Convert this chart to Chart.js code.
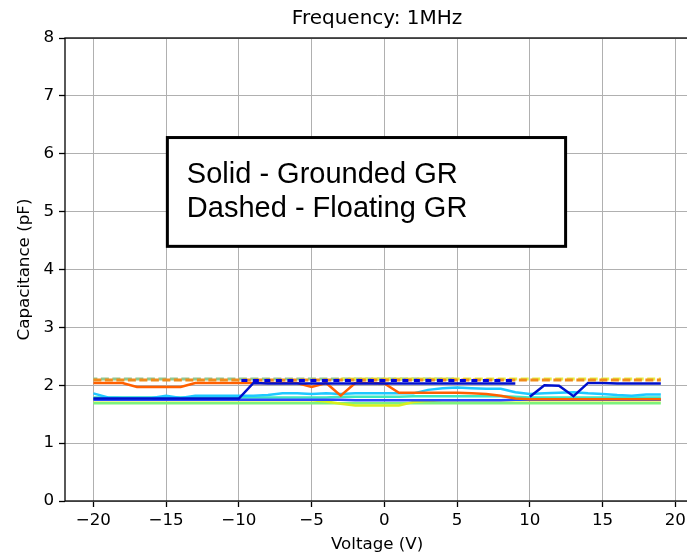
<!DOCTYPE html>
<html>
<head>
<meta charset="utf-8">
<script src="https://cdn.jsdelivr.net/npm/chart.js@4"></script>
<style>
  html, body { margin: 0; padding: 0; background: #fff; overflow: hidden; }
  canvas { display: block; }
</style>
</head>
<body>
<canvas id="cvChart" width="690" height="554"></canvas>
<script>
// bias voltage sweep (V)
const voltage = [-20, -19, -18, -17, -16, -15, -14, -13, -12, -11,
                 -10, -9, -8, -7, -6, -5, -4, -3, -2, -1,
                 0, 1, 2, 3, 4, 5, 6, 7, 8, 9,
                 10, 11, 12, 13, 14, 15, 16, 17, 18, 19];

// solid - grounded guard ring (pF)
const grLightGreen = [1.69, 1.69, 1.69, 1.69, 1.69, 1.69, 1.69, 1.69, 1.69, 1.69,
                      1.69, 1.69, 1.69, 1.69, 1.69, 1.69, 1.69, 1.69, 1.69, 1.69,
                      1.69, 1.69, 1.69, 1.69, 1.69, 1.69, 1.69, 1.69, 1.69, 1.69,
                      1.69, 1.69, 1.69, 1.69, 1.69, 1.69, 1.69, 1.69, 1.69, 1.69];
const grYellow = [1.74, 1.74, 1.74, 1.74, 1.74, 1.74, 1.74, 1.74, 1.74, 1.74,
                  1.74, 1.74, 1.74, 1.74, 1.74, 1.74, 1.72, 1.68, 1.65, 1.65,
                  1.65, 1.65, 1.71, 1.73, 1.74, 1.74, 1.74, 1.74, 1.74, 1.74,
                  1.74, 1.74, 1.74, 1.74, 1.74, 1.74, 1.74, 1.74, 1.74, 1.74];
const grTeal = [1.79, 1.79, 1.79, 1.79, 1.79, 1.79, 1.79, 1.79, 1.79, 1.79,
                1.79, 1.79, 1.79, 1.79, 1.79, 1.79, 1.79, 1.80, 1.80, 1.80,
                1.80, 1.80, 1.81, 1.81, 1.81, 1.81, 1.81, 1.81, 1.81, 1.80,
                1.79, 1.79, 1.79, 1.79, 1.79, 1.79, 1.79, 1.79, 1.79, 1.79];
const grBlue2 = [1.75, 1.75, 1.75, 1.75, 1.75, 1.75, 1.75, 1.75, 1.75, 1.75,
                 1.75, 1.75, 1.75, 1.75, 1.75, 1.75, 1.75, 1.75, 1.74, 1.74,
                 1.74, 1.74, 1.74, 1.74, 1.74, 1.74, 1.74, 1.74, 1.74, 1.75,
                 1.75, 1.75, 1.75, 1.75, 1.75, 1.75, 1.75, 1.75, 1.75, 1.75];
const grCyan = [1.86, 1.79, 1.78, 1.78, 1.78, 1.82, 1.78, 1.82, 1.82, 1.82,
                1.82, 1.82, 1.83, 1.86, 1.86, 1.85, 1.86, 1.85, 1.86, 1.86,
                1.86, 1.86, 1.86, 1.92, 1.95, 1.96, 1.95, 1.94, 1.94, 1.88,
                1.85, 1.86, 1.87, 1.88, 1.86, 1.85, 1.83, 1.82, 1.84, 1.84];
const grOrange = [2.04, 2.04, 2.04, 1.97, 1.97, 1.97, 1.97, 2.04, 2.04, 2.04,
                  2.04, 2.04, 2.04, 2.04, 2.04, 1.97, 2.04, 1.82, 2.04, 2.04,
                  2.03, 1.87, 1.87, 1.87, 1.87, 1.87, 1.86, 1.85, 1.82, 1.77,
                  1.76, 1.76, 1.76, 1.76, 1.76, 1.76, 1.76, 1.76, 1.76, 1.76];
const grBlueA = [1.77, 1.77, 1.77, 1.77, 1.77, 1.77, 1.77, 1.77, 1.77, 1.77,
                 1.77, 2.04, 2.03, 2.03, 2.03, 2.03, 2.03, 2.03, 2.03, 2.03,
                 2.03, 2.03, 2.03, 2.03, 2.03, 2.03, 2.03, 2.03, 2.03, 2.03,
                 null, null, null, null, null, null, null, null, null, null];
const grBlueB = [null, null, null, null, null, null, null, null, null, null,
                 null, null, null, null, null, null, null, null, null, null,
                 null, null, null, null, null, null, null, null, null, null,
                 1.80, 2.00, 1.99, 1.81, 2.04, 2.04, 2.03, 2.03, 2.03, 2.03];

// dashed - floating guard ring (pF)
const flGreen = [2.11, 2.11, 2.11, 2.11, 2.11, 2.11, 2.11, 2.11, 2.11, 2.11,
                 2.11, 2.11, 2.11, 2.11, 2.11, 2.11, 2.11, 2.11, 2.11, 2.11,
                 2.11, 2.11, 2.11, 2.11, 2.11, 2.11, null, null, null, null,
                 null, null, null, null, null, null, null, null, null, null];
const flYellow = [null, null, null, null, null, null, null, null, null, null,
                  null, null, null, null, null, null, null, 2.11, 2.11, 2.11,
                  2.11, 2.11, 2.11, 2.11, 2.11, 2.11, 2.11, 2.11, 2.11, 2.11,
                  2.11, 2.11, 2.11, 2.11, 2.11, 2.11, 2.11, 2.11, 2.11, 2.11];
const flOrange = [2.09, 2.09, 2.09, 2.09, 2.09, 2.09, 2.09, 2.09, 2.09, 2.09,
                  2.09, 2.09, 2.09, 2.09, 2.09, 2.09, 2.09, 2.09, 2.09, 2.09,
                  2.09, 2.09, 2.09, 2.09, 2.09, 2.09, 2.09, 2.09, 2.09, 2.09,
                  2.09, 2.09, 2.09, 2.09, 2.09, 2.09, 2.09, 2.09, 2.09, 2.09];
const flBlue = [null, null, null, null, null, null, null, null, null, null,
                2.08, 2.08, 2.08, 2.08, 2.08, 2.08, 2.08, 2.08, 2.08, 2.08,
                2.08, 2.08, 2.08, 2.08, 2.08, 2.08, 2.08, 2.08, 2.08, 2.08,
                null, null, null, null, null, null, null, null, null, null];

const noteLines = ["Solid - Grounded GR", "Dashed - Floating GR"];

function series(values, color, width, dash, dashOffset) {
  return {
    data: voltage.map((v, i) => ({ x: v, y: values[i] })),
    borderColor: color,
    borderWidth: width,
    borderDash: dash || [],
    borderDashOffset: dashOffset || 0,
    pointRadius: 0,
    fill: false,
    tension: 0,
    spanGaps: false,
  };
}

// listed bottom to top, like the plot calls
const lines = [
  series(grLightGreen, "#7cf27c", 2.5),
  series(grYellow, "#d8f020", 2.5),
  series(grTeal, "#3de8c0", 2.5),
  series(grBlue2, "#2848ff", 2.5),
  series(grCyan, "#1ec8ff", 2.5),
  series(grOrange, "#ff6000", 2.5),
  series(grBlueA, "#0010cc", 2.5),
  series(grBlueB, "#0010cc", 2.5),
  series(flGreen, "#8fc88f", 3, [8, 3.5], 4),
  series(flYellow, "#e6f040", 3, [8, 3.5], 4),
  series(flOrange, "#f08c1c", 3, [8, 3.5], 0),
  series(flBlue, "#0000e0", 3, [6, 5.5], 9),
];
lines.forEach((d, i) => { d.order = -i; });

const frameAndNote = {
  id: "frameAndNote",
  afterDatasetsDraw(chart) {
    const { ctx, chartArea: a } = chart;
    const w = a.right - a.left, h = a.bottom - a.top;
    ctx.save();
    ctx.strokeStyle = "#000";
    ctx.lineWidth = 1.3;
    ctx.strokeRect(a.left, a.top, w, h);

    const bx = a.left + w * 0.164, by = a.top + h * 0.215;
    const bw = w * 0.638, bh = h * 0.235;
    ctx.fillStyle = "#fff";
    ctx.fillRect(bx, by, bw, bh);
    ctx.lineWidth = 3;
    ctx.strokeRect(bx, by, bw, bh);
    ctx.fillStyle = "#000";
    ctx.font = '29px "Liberation Sans", Arial, sans-serif';
    ctx.textBaseline = "alphabetic";
    ctx.textAlign = "left";
    noteLines.forEach((t, i) => ctx.fillText(t, bx + 19.5, by + 45.5 + i * 34));
    ctx.restore();
  },
};

const tickFont = { family: "DejaVu Sans", size: 16.7 };
const minus = (v) => (v < 0 ? "\u2212" + Math.abs(v) : String(v));

new Chart(document.getElementById("cvChart").getContext("2d"), {
  type: "line",
  data: { datasets: lines },
  options: {
    responsive: false,
    animation: false,
    devicePixelRatio: 1,
    layout: { padding: 0 },
    plugins: {
      legend: { display: false },
      tooltip: { enabled: false },
      title: {
        display: true,
        text: "Frequency: 1MHz",
        fullSize: false,
        color: "#000",
        font: { family: "DejaVu Sans", size: 20, weight: "normal", lineHeight: 1.2 },
        padding: { top: 7, bottom: 7 },
      },
    },
    scales: {
      x: {
        type: "linear",
        min: -21.95,
        max: 20.95,
        border: { display: false },
        grid: { color: "#b0b0b0", lineWidth: 1, tickLength: 6, tickColor: "#000", tickWidth: 1.3 },
        ticks: { stepSize: 5, includeBounds: false, color: "#000", font: tickFont, padding: 4, maxRotation: 0, callback: minus },
        title: { display: true, text: "Voltage (V)", color: "#000", font: { family: "DejaVu Sans", size: 16.7, lineHeight: 1 }, padding: { top: 0, bottom: 1 } },
        afterFit: (s) => { s.height = 53; },
      },
      y: {
        min: 0,
        max: 8,
        border: { display: false },
        grid: { color: "#b0b0b0", lineWidth: 1, tickLength: 6, tickColor: "#000", tickWidth: 1.3 },
        ticks: { stepSize: 1, color: "#000", font: tickFont, padding: 5 },
        title: { display: true, text: "Capacitance (pF)", color: "#000", font: { family: "DejaVu Sans", size: 16.7, lineHeight: 1.2 }, padding: { top: 15, bottom: 0 } },
        afterFit: (s) => { s.width = 65; },
      },
    },
  },
  plugins: [frameAndNote],
});
</script>
</body>
</html>
